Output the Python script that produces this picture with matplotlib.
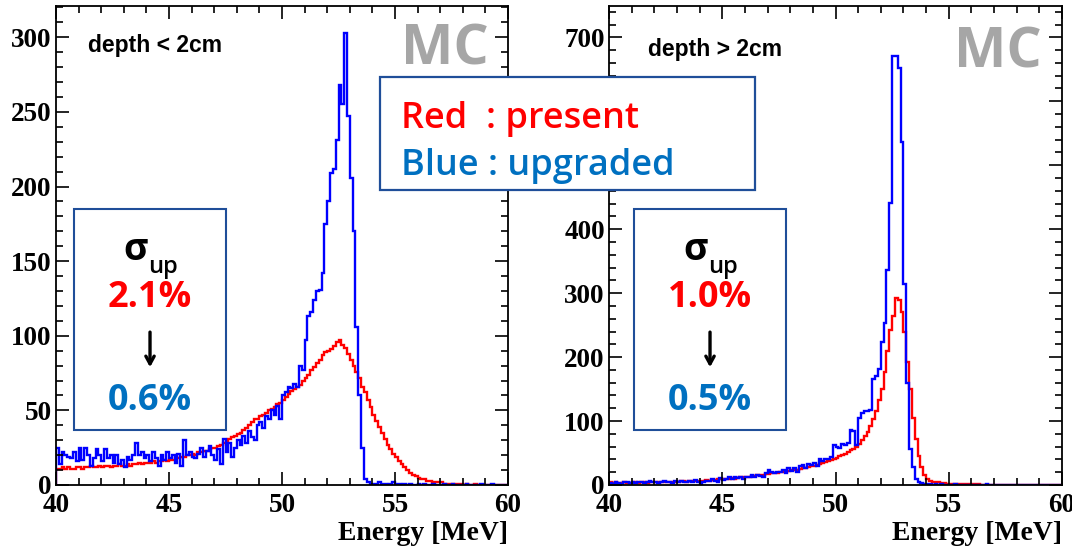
import numpy as np
import matplotlib
matplotlib.use("Agg")
import matplotlib.pyplot as plt
from matplotlib.patches import Rectangle
from matplotlib.ticker import MultipleLocator

# bin edges: 40 - 60 MeV, 0.125 MeV bins (8 per MeV)
edges = np.linspace(40, 60, 161)

# depth < 2cm
red_shallow = [
    11, 11, 12, 11, 12, 11, 11, 12,
    12, 11, 12, 12, 13, 12, 12, 13,
    12, 13, 13, 12, 13, 13, 14, 13,
    13, 14, 13, 14, 14, 15, 14, 15,
    15, 15, 16, 15, 16, 16, 17, 16,
    17, 17, 18, 18, 19, 19, 20, 20,
    21, 20, 22, 22, 23, 23, 24, 25,
    25, 26, 27, 28, 29, 31, 32, 33,
    34, 35, 37, 38, 40, 42, 44, 44,
    46, 47, 48, 50, 51, 52, 54, 55,
    57, 59, 61, 63, 64, 66, 67, 70,
    72, 74, 77, 79, 82, 84, 87, 89,
    90, 91, 93, 96, 97, 94, 92, 88,
    84, 80, 76, 72, 66, 62, 57, 52,
    47, 43, 39, 35, 31, 27, 24, 21,
    19, 16, 14, 12, 10, 8, 7, 6,
    5, 4, 4, 3, 3, 2, 2, 2,
    2, 1, 1, 1, 1, 1, 1, 1,
    0, 1, 0, 0, 1, 0, 0, 0,
    0, 0, 0, 0, 0, 0, 0, 0,
]
blue_shallow = [
    25, 14, 22, 20, 19, 18, 22, 16,
    25, 17, 25, 20, 13, 18, 24, 20,
    16, 24, 18, 20, 15, 20, 14, 17,
    12, 19, 17, 20, 28, 20, 22, 18,
    20, 16, 22, 18, 13, 20, 17, 22,
    18, 20, 15, 21, 13, 30, 20, 22,
    19, 18, 21, 25, 19, 23, 26, 20,
    17, 24, 14, 31, 22, 28, 19, 25,
    30, 27, 33, 28, 36, 32, 30, 40,
    42, 38, 46, 44, 50, 47, 53, 44,
    60, 62, 66, 65, 68, 66, 80, 77,
    97, 113, 116, 124, 130, 131, 142, 175,
    190, 209, 212, 231, 268, 255, 303, 247,
    206, 170, 106, 60, 25, 4, 2, 1,
    1, 1, 2, 1, 1, 0, 1, 2,
    1, 1, 0, 1, 0, 1, 0, 0,
    1, 0, 1, 0, 0, 1, 0, 0,
    0, 1, 0, 0, 1, 0, 0, 0,
    0, 1, 0, 0, 0, 0, 1, 0,
    0, 0, 1, 0, 0, 0, 0, 0,
]

# depth > 2cm
red_deep = [
    4, 3, 4, 3, 3, 4, 3, 3,
    3, 4, 3, 4, 4, 3, 4, 4,
    4, 5, 4, 5, 4, 5, 5, 5,
    5, 6, 6, 5, 6, 7, 6, 7,
    7, 7, 8, 7, 8, 8, 9, 9,
    9, 10, 10, 11, 10, 11, 12, 12,
    13, 13, 14, 14, 15, 15, 16, 17,
    17, 18, 18, 19, 20, 21, 21, 22,
    23, 23, 24, 25, 26, 27, 28, 29,
    30, 31, 33, 34, 36, 37, 39, 41,
    43, 45, 47, 49, 51, 54, 57, 60,
    64, 70, 76, 83, 92, 103, 116, 133,
    150, 177, 210, 243, 265, 292, 290, 270,
    240, 193, 150, 105, 72, 45, 28, 15,
    9, 6, 5, 4, 4, 3, 3, 2,
    2, 2, 2, 1, 1, 1, 1, 1,
    1, 1, 1, 0, 0, 0, 0, 0,
    0, 0, 0, 0, 0, 0, 0, 0,
    0, 0, 0, 0, 0, 0, 0, 0,
    0, 0, 0, 0, 0, 0, 0, 0,
]
blue_deep = [
    3, 2, 4, 3, 2, 4, 5, 3,
    4, 3, 5, 4, 3, 4, 6, 4,
    5, 3, 4, 6, 4, 5, 3, 6,
    4, 7, 5, 4, 6, 5, 8, 4,
    2, 5, 7, 6, 9, 7, 5, 11,
    8, 10, 12, 9, 12, 11, 13, 10,
    13, 12, 15, 12, 16, 14, 13, 18,
    23, 20, 18, 21, 20, 24, 19, 26,
    22, 26, 20, 29, 31, 27, 33, 32,
    35, 30, 40, 38, 41, 40, 44, 62,
    60, 58, 64, 62, 66, 86, 84, 62,
    105, 113, 115, 116, 118, 166, 170, 182,
    224, 254, 336, 441, 671, 671, 652, 537,
    314, 160, 56, 28, 9, 4, 3, 2,
    1, 1, 0, 1, 0, 1, 0, 0,
    0, 0, 1, 0, 0, 0, 0, 0,
    0, 0, 0, 0, 0, 1, 0, 0,
    0, 0, 0, 0, 0, 0, 0, 0,
    0, 0, 0, 0, 0, 0, 0, 0,
    0, 0, 0, 0, 0, 0, 0, 0,
]

depth_labels = ["depth < 2cm", "depth > 2cm"]
sigma_present = ["2.1%", "1.0%"]
sigma_upgraded = ["0.6%", "0.5%"]

RED = "#ff0000"
BLUE = "#0000ff"
TXTBLUE = "#0070c0"
BOXCOL = "#1f4e99"
SANS = "Open Sans"
W, H = 1072, 551

fig = plt.figure(figsize=(W / 100, H / 100), dpi=100)

# per panel: x0, width (px), ymax, major, minor, depth label x/y, MC x/y, sigma box x
layout = [
    (56, 452, 321, 50, 10, 0.071, 0.903, 0.958, 0.877, 0.040),
    (609, 453, 749, 100, 20, 0.085, 0.895, 0.956, 0.871, 0.055),
]
hists = [(red_shallow, blue_shallow), (red_deep, blue_deep)]

for i, ((x0, w, ymax, major, minor, dx, dy, mcx, mcy, bx), (red, blue)) in enumerate(zip(layout, hists)):
    ax = fig.add_axes([x0 / W, 66 / H, w / W, 479 / H])
    ax.stairs(red, edges, color=RED, lw=1.7)
    ax.stairs(blue, edges, color=BLUE, lw=1.7)
    ax.set_xlim(40, 60)
    ax.set_ylim(0, ymax)
    ax.xaxis.set_major_locator(MultipleLocator(5))
    ax.xaxis.set_minor_locator(MultipleLocator(1))
    ax.yaxis.set_major_locator(MultipleLocator(major))
    ax.yaxis.set_minor_locator(MultipleLocator(minor))
    ax.tick_params(which="both", direction="in", top=True, right=True, width=1.2)
    ax.tick_params(which="major", length=9.5)
    ax.tick_params(which="minor", length=5)
    ax.tick_params(axis="y", pad=3)
    ax.tick_params(axis="x", pad=6)
    for sp in ax.spines.values():
        sp.set_linewidth(1.3)
    for lab in ax.get_xticklabels() + ax.get_yticklabels():
        lab.set_fontfamily("Liberation Serif")
        lab.set_fontweight("bold")
        lab.set_fontsize(19.5)
    ax.set_xlabel("Energy [MeV]", fontfamily="Liberation Serif", fontweight="bold",
                  fontsize=20, loc="right", labelpad=2)

    ax.text(dx, dy, depth_labels[i], transform=ax.transAxes, fontfamily="Liberation Sans",
            fontweight="bold", fontsize=16.5, va="baseline", ha="left")
    ax.text(mcx, mcy, "MC", transform=ax.transAxes, fontfamily=SANS,
            fontweight="bold", fontsize=40, color="#a6a6a6", va="baseline", ha="right")

    # sigma box
    ax.add_patch(Rectangle((bx, 0.115), 0.335, 0.461, transform=ax.transAxes,
                           fill=True, facecolor="white", edgecolor=BOXCOL, lw=1.5, zorder=4))
    cx = bx + 0.168
    ax.text(cx - 0.005, 0.49, "σ", transform=ax.transAxes, fontfamily=SANS,
            fontweight="bold", fontsize=27, ha="right", va="center", zorder=5)
    ax.text(cx - 0.005, 0.455, "up", transform=ax.transAxes, fontfamily=SANS,
            fontweight="semibold", fontsize=17, ha="left", va="center", zorder=5)
    ax.text(cx, 0.39, sigma_present[i], transform=ax.transAxes, fontfamily=SANS,
            fontweight="bold", fontsize=26, color=RED, ha="center", va="center", zorder=5)
    ax.annotate("", xy=(cx, 0.24), xytext=(cx, 0.325), xycoords="axes fraction",
                arrowprops=dict(arrowstyle="->,head_length=0.55,head_width=0.3",
                                color="black", lw=2.4), zorder=5)
    ax.text(cx, 0.175, sigma_upgraded[i], transform=ax.transAxes, fontfamily=SANS,
            fontweight="bold", fontsize=26, color=TXTBLUE, ha="center", va="center", zorder=5)

# legend box spanning both panels
fig.add_artist(Rectangle((380 / W, 1 - 190 / H), 375 / W, 113 / H, transform=fig.transFigure,
                         facecolor="white", edgecolor=BOXCOL, lw=1.6, zorder=10))
fig.text(401 / W, 1 - 128 / H, "Red  : present", color=RED, fontfamily=SANS,
         fontweight="semibold", fontsize=26, va="baseline", ha="left", zorder=11)
fig.text(401 / W, 1 - 175 / H, "Blue : upgraded", color=TXTBLUE, fontfamily=SANS,
         fontweight="semibold", fontsize=26, va="baseline", ha="left", zorder=11)

fig.savefig("out.png", dpi=100)
